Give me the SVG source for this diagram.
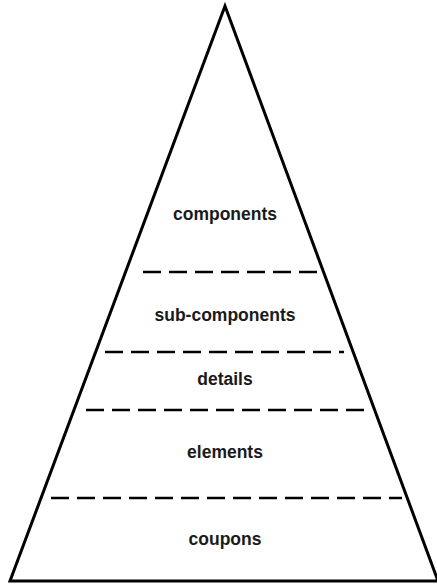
<svg xmlns="http://www.w3.org/2000/svg" width="437" height="584" viewBox="0 0 437 584">
<style>
.tri{fill:#fff;stroke:#000;stroke-width:3;stroke-linejoin:miter}
.dash{stroke:#000;stroke-width:2.6;stroke-dasharray:18 8;fill:none}
.lbl{font-family:"Liberation Sans",Arial,sans-serif;font-weight:bold;font-size:17.5px;fill:#1a1a1a;text-anchor:middle}
</style>
<rect width="437" height="584" fill="#fff"/>
<g id="pyramid">
<polygon class="tri" points="225,6 10,581 438,581"/>
</g>
<g id="dividers">
<line class="dash" x1="143" y1="272" x2="318" y2="272"/>
<line class="dash" x1="105" y1="352" x2="344" y2="352"/>
<line class="dash" x1="86" y1="410" x2="367" y2="410"/>
<line class="dash" x1="51" y1="498" x2="402" y2="498"/>
</g>
<g id="components"><text class="lbl" x="225" y="220">components</text></g>
<g id="sub-components"><text class="lbl" x="225" y="321">sub-components</text></g>
<g id="details"><text class="lbl" x="225" y="385">details</text></g>
<g id="elements"><text class="lbl" x="225" y="458">elements</text></g>
<g id="coupons"><text class="lbl" x="225" y="545">coupons</text></g>
</svg>
